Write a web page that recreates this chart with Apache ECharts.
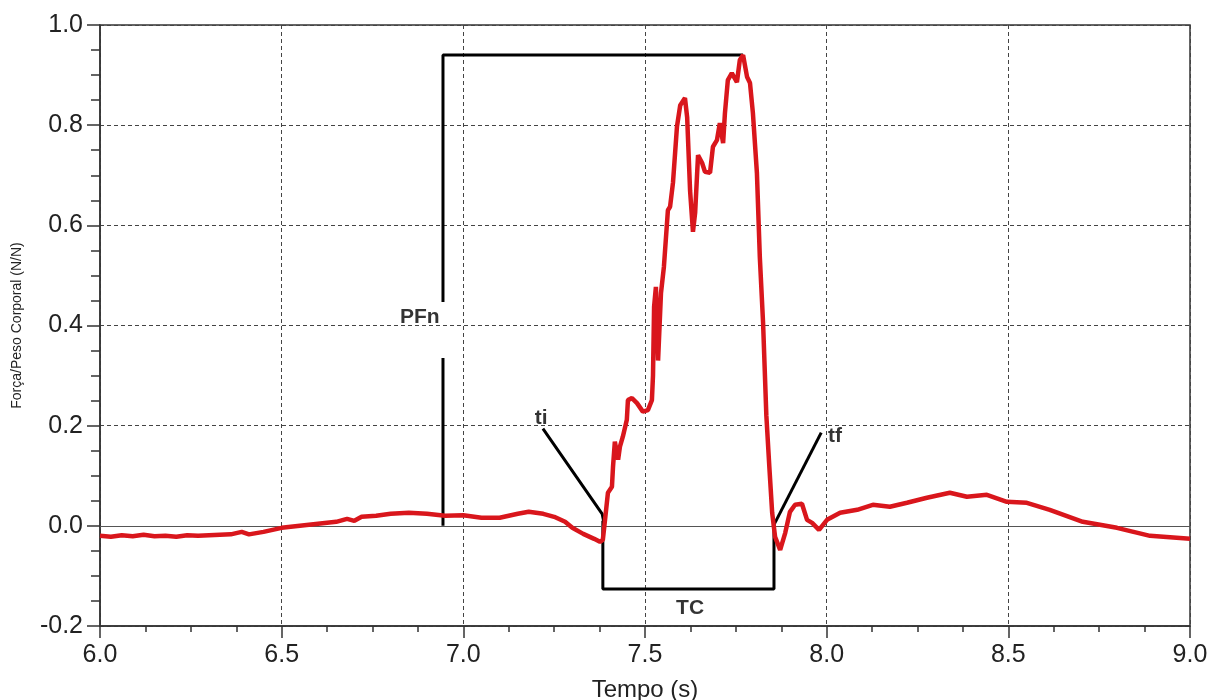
<!DOCTYPE html>
<html>
<head>
<meta charset="utf-8">
<script src="https://cdn.jsdelivr.net/npm/echarts@6/dist/echarts.min.js"></script>
<style>
  html, body { margin: 0; padding: 0; background: #fff; }
  #chart { width: 1215px; height: 700px; }
</style>
</head>
<body>
<div id="chart"></div>
<script>
// força normalizada pelo peso corporal (leitura do gráfico)
const tempo = [
    6.00, 6.03, 6.06, 6.09, 6.12, 6.15, 6.18, 6.21, 6.24, 6.27, 6.30, 6.33, 6.36, 6.39, 6.41, 6.45,
    6.50, 6.55, 6.60, 6.65, 6.68, 6.70, 6.72, 6.76, 6.80, 6.85, 6.90, 6.95, 7.00, 7.05, 7.10, 7.15,
    7.18, 7.22, 7.25, 7.28, 7.30, 7.33, 7.36, 7.376,
    7.384, 7.390, 7.398, 7.409, 7.412, 7.417, 7.426, 7.431, 7.439, 7.450, 7.453, 7.464, 7.478, 7.494,
    7.508, 7.519, 7.522, 7.525, 7.530, 7.536, 7.544, 7.552, 7.563, 7.569, 7.577, 7.588, 7.597, 7.610,
    7.616, 7.624, 7.632, 7.638, 7.646, 7.657, 7.665, 7.679, 7.687, 7.698, 7.706, 7.715, 7.720, 7.728,
    7.739, 7.753, 7.761, 7.770, 7.781, 7.789, 7.797, 7.808, 7.816, 7.825, 7.834, 7.842, 7.850, 7.858,
    7.872, 7.886, 7.899, 7.913, 7.932, 7.946, 7.960, 7.979, 8.001, 8.037, 8.084, 8.127, 8.174, 8.221,
    8.276, 8.339, 8.386, 8.441, 8.496, 8.551, 8.614, 8.705, 8.799, 8.890, 9.00
];
const forca = [
    -0.020, -0.022, -0.019, -0.021, -0.018, -0.021, -0.020, -0.022, -0.019, -0.020, -0.019, -0.018, -0.017, -0.012, -0.017, -0.012,
    -0.004, 0.000, 0.004, 0.008, 0.014, 0.010, 0.018, 0.020, 0.024, 0.026, 0.024, 0.020, 0.021, 0.016, 0.016, 0.024,
    0.028, 0.024, 0.018, 0.008, -0.004, -0.016, -0.026, -0.032,
    -0.028, 0.012, 0.066, 0.078, 0.118, 0.168, 0.132, 0.158, 0.178, 0.212, 0.251, 0.255, 0.245, 0.228,
    0.231, 0.251, 0.300, 0.437, 0.477, 0.330, 0.465, 0.517, 0.630, 0.637, 0.685, 0.797, 0.840, 0.854,
    0.816, 0.670, 0.587, 0.625, 0.740, 0.725, 0.707, 0.705, 0.757, 0.770, 0.804, 0.764, 0.824, 0.890,
    0.904, 0.886, 0.930, 0.940, 0.896, 0.884, 0.824, 0.705, 0.537, 0.405, 0.220, 0.120, 0.026, -0.022,
    -0.048, -0.014, 0.028, 0.042, 0.044, 0.012, 0.006, -0.008, 0.012, 0.026, 0.032, 0.042, 0.038, 0.046,
    0.056, 0.066, 0.058, 0.062, 0.048, 0.046, 0.032, 0.008, -0.004, -0.020, -0.026
];

// marcações: PFn, TC, ti, tf
const pfnBaixo = [[6.944, 0.0], [6.944, 0.335]];
const pfnAlto = [[6.944, 0.447], [6.944, 0.940], [7.770, 0.940]];
const tcCaixa = [[7.384, 0.010], [7.384, -0.126], [7.855, -0.126], [7.855, 0.0]];
const tiLinha = [[7.219, 0.194], [7.382, 0.024], [7.386, 0.010]];
const tfLinha = [[7.852, -0.002], [7.985, 0.186]];
const rotulos = [
    { name: 'PFn', value: [6.88, 0.417] },
    { name: 'TC', value: [7.624, -0.164] },
    { name: 'ti', value: [7.214, 0.214] },
    { name: 'tf', value: [8.023, 0.178] }
];

const xTicks = { min: 6.0, max: 9.0, interval: 0.5 };
const yTicks = { min: -0.2, max: 1.0, interval: 0.2 };

const chart = echarts.init(document.getElementById('chart'));

const blackLine = data => ({
    type: 'line',
    data: data,
    showSymbol: false,
    silent: true,
    lineStyle: { color: '#000', width: 3 },
    z: 4
});

const option = {
    animation: false,
    grid: {
        left: 100, right: 25, top: 25, bottom: 74,
        outerBoundsMode: 'none',
        containLabel: false,
        show: true, borderColor: '#333', borderWidth: 1.5
    },
    xAxis: {
        type: 'value',
        min: xTicks.min, max: xTicks.max, interval: xTicks.interval,
        name: 'Tempo (s)',
        nameLocation: 'middle',
        nameGap: 52,
        nameTextStyle: { fontFamily: 'Liberation Sans', fontSize: 24, color: '#222' },
        axisLine: { show: true, onZero: false, lineStyle: { color: '#333', width: 1.5 } },
        axisTick: { show: true, inside: false, length: 12, lineStyle: { color: '#333', width: 1.5 } },
        minorTick: { show: true, splitNumber: 4, length: 6, lineStyle: { color: '#333', width: 1.5 } },
        axisLabel: {
            fontFamily: 'Liberation Sans', fontSize: 25, color: '#222', margin: 17,
            formatter: v => v.toFixed(1)
        },
        splitLine: { show: true, lineStyle: { color: '#444', type: [4, 3], width: 1 } }
    },
    yAxis: {
        type: 'value',
        min: yTicks.min, max: yTicks.max, interval: yTicks.interval,
        name: 'Força/Peso Corporal (N/N)',
        nameLocation: 'middle',
        nameGap: 76,
        nameTextStyle: { fontFamily: 'Liberation Sans', fontSize: 14, color: '#222' },
        axisLine: { show: true, onZero: false, lineStyle: { color: '#333', width: 1.5 } },
        axisTick: { show: true, inside: false, length: 13, lineStyle: { color: '#333', width: 1.5 } },
        minorTick: { show: true, splitNumber: 4, length: 9, lineStyle: { color: '#333', width: 1.5 } },
        axisLabel: {
            fontFamily: 'Liberation Sans', fontSize: 25, color: '#222', margin: 17,
            formatter: v => v.toFixed(1)
        },
        splitLine: { show: true, lineStyle: { color: '#444', type: [4, 3], width: 1 } }
    },
    series: [
        {
            type: 'line',
            data: tempo.map((t, i) => [t, forca[i]]),
            showSymbol: false,
            lineStyle: { color: '#d9161c', width: 4.5 },
            z: 5,
            markLine: {
                silent: true,
                symbol: 'none',
                label: { show: false },
                lineStyle: { color: '#555', type: 'solid', width: 1.2 },
                data: [{ yAxis: 0 }]
            }
        },
        blackLine(pfnBaixo),
        blackLine(pfnAlto),
        blackLine(tcCaixa),
        blackLine(tiLinha),
        blackLine(tfLinha),
        {
            type: 'scatter',
            data: rotulos,
            symbolSize: 0,
            silent: true,
            z: 6,
            label: {
                show: true,
                position: 'inside',
                formatter: '{b}',
                fontFamily: 'Liberation Sans',
                fontWeight: 'bold',
                fontSize: 21,
                color: '#000'
            }
        }
    ]
};

chart.setOption(option);
window.addEventListener('resize', () => chart.resize());
</script>
</body>
</html>
